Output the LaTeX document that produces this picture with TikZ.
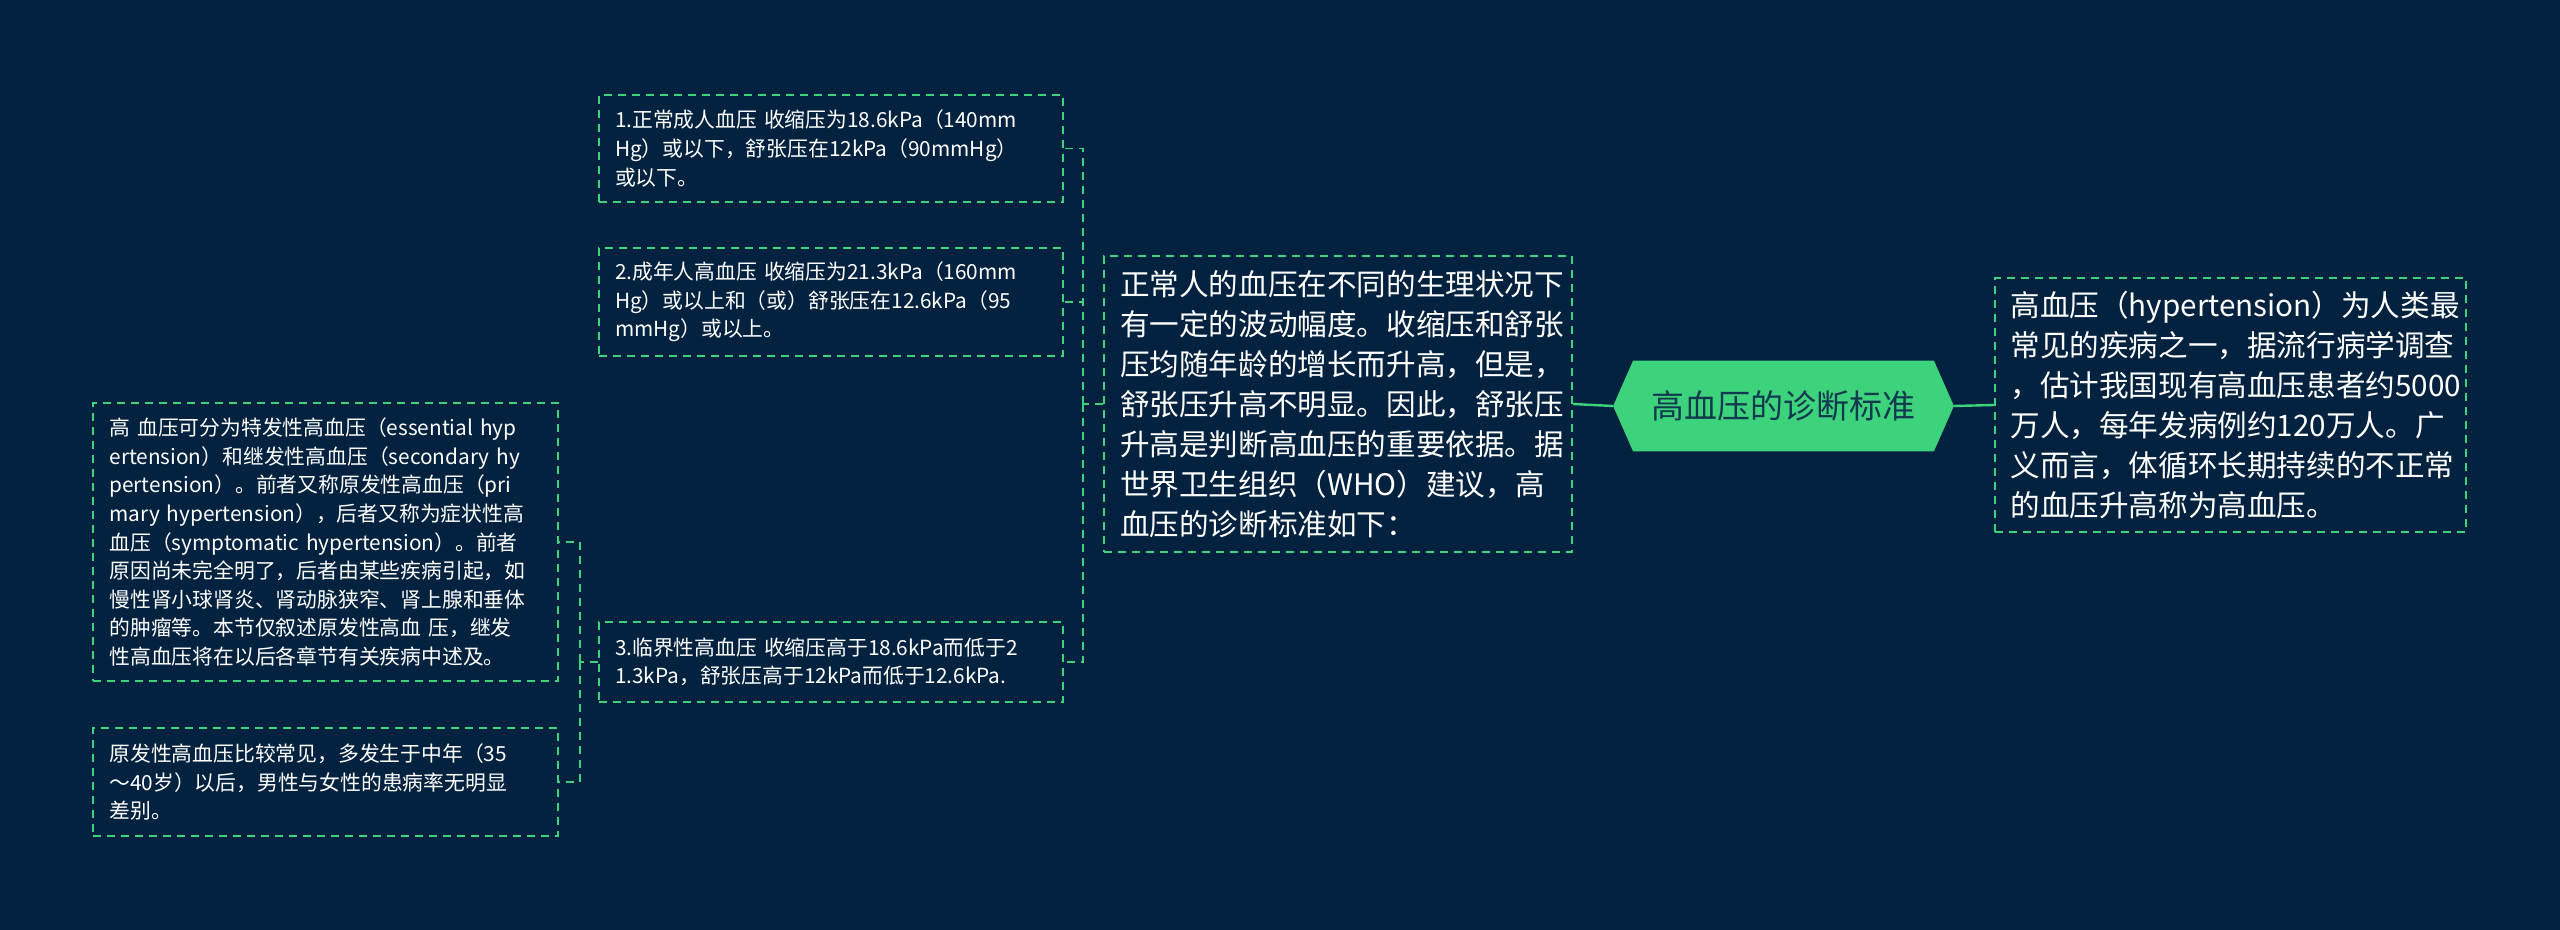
\documentclass[tikz,border=0pt]{standalone}
\usepackage{fontspec}
\setmainfont{Noto Sans CJK SC}
\definecolor{bg}{HTML}{03223F}
\definecolor{gr}{HTML}{3DD27C}
\definecolor{hx}{HTML}{123A4E}
\begin{document}
\begin{tikzpicture}[x=0.5pt,y=-0.5pt,
  box/.style={draw=gr,dashed,line width=0.8pt,dash pattern=on 4pt off 3pt,text=white,align=left,inner sep=0pt,anchor=center},
  sm/.style={font=\fontsize{10.4}{14.3}\selectfont},
  big/.style={font=\fontsize{14.8}{20}\selectfont},
  con/.style={draw=gr,line width=0.8pt,dash pattern=on 4pt off 3pt},
  solid con/.style={draw=gr,line width=1.2pt}]
\fill[bg] (0,0) rectangle (2560,930);
\useasboundingbox (0,0) rectangle (2560,930);
\node[box,sm,minimum width=232pt,minimum height=53.5pt,text width=216pt] (b1) at (831,148.5) {1.正常成人血压 收缩压为18.6kPa（140mm\\Hg）或以下，舒张压在12kPa（90mmHg）\\或以下。};
\node[box,sm,minimum width=232pt,minimum height=54pt,text width=216pt] (b2) at (831,302) {2.成年人高血压 收缩压为21.3kPa（160mm\\Hg）或以上和（或）舒张压在12.6kPa（95\\mmHg）或以上。};
\node[box,sm,minimum width=232pt,minimum height=40pt,text width=216pt] (b3) at (831,662) {3.临界性高血压 收缩压高于18.6kPa而低于2\\1.3kPa，舒张压高于12kPa而低于12.6kPa.};
\node[box,sm,minimum width=232.5pt,minimum height=139pt,text width=216pt] (la) at (325.5,542) {高 血压可分为特发性高血压（essential hyp\\ertension）和继发性高血压（secondary hy\\pertension）。前者又称原发性高血压（pri\\mary hypertension），后者又称为症状性高\\血压（symptomatic hypertension）。前者\\原因尚未完全明了，后者由某些疾病引起，如\\慢性肾小球肾炎、肾动脉狭窄、肾上腺和垂体\\的肿瘤等。本节仅叙述原发性高血 压，继发\\性高血压将在以后各章节有关疾病中述及。};
\node[box,sm,minimum width=232.5pt,minimum height=54pt,text width=216pt] (lb) at (325.5,782) {原发性高血压比较常见，多发生于中年（35\\～40岁）以后，男性与女性的患病率无明显\\差别。};
\node[box,big,minimum width=234pt,minimum height=148pt,text width=218pt] (mid) at (1338,404) {正常人的血压在不同的生理状况下\\有一定的波动幅度。收缩压和舒张\\压均随年龄的增长而升高，但是，\\舒张压升高不明显。因此，舒张压\\升高是判断高血压的重要依据。据\\世界卫生组织（WHO）建议，高\\血压的诊断标准如下：};
\node[box,big,minimum width=235.5pt,minimum height=127pt,text width=220pt] (rt) at (2230.5,405) {高血压（hypertension）为人类最\\常见的疾病之一，据流行病学调查\\，估计我国现有高血压患者约5000\\万人，每年发病例约120万人。广\\义而言，体循环长期持续的不正常\\的血压升高称为高血压。};
\node[minimum width=170pt,minimum height=45pt,inner sep=0pt,text=hx,font=\fontsize{16.5}{20}\selectfont] (hex) at (1783.5,406) {高血压的诊断标准};
\fill[gr] (hex.west) -- ([xshift=10pt]hex.north west) -- ([xshift=-10pt]hex.north east) -- (hex.east) -- ([xshift=-10pt]hex.south east) -- ([xshift=10pt]hex.south west) -- cycle;
\node[text=hx,font=\fontsize{16.5}{20}\selectfont] at (hex.center) {高血压的诊断标准};
\coordinate (j1) at (1083,404);
\coordinate (j2) at (580,662);
\draw[solid con] (hex.west) -- (mid.east);
\draw[solid con] (hex.east) -- (rt.west);
\draw[con] (mid.west) -- (j1);
\draw[con] (j1) |- (b1.east);
\draw[con] (j1) |- (b2.east);
\draw[con] (j1) |- (b3.east);
\draw[con] (b3.west) -- (j2);
\draw[con] (j2) |- (la.east);
\draw[con] (j2) |- (lb.east);
\end{tikzpicture}
\end{document}
